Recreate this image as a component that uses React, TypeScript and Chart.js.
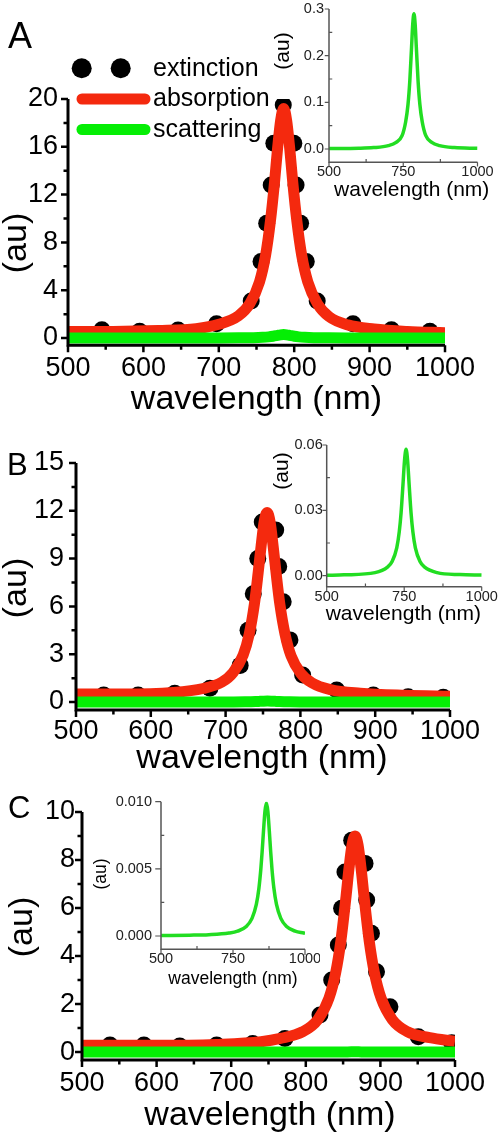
import React, { useEffect, useRef } from "react";
import { Chart, registerables } from "chart.js";

Chart.register(...registerables);

const FONT = "'Liberation Sans', Arial, Helvetica, sans-serif";
const RED = "#f4290e";
const GREEN_MAIN = "#05ee05";
const GREEN_INSET = "#22dd22";

// ---------- Panel A ----------
const absA_x = [500, 560, 620, 670, 700, 726, 741, 754, 762, 768.5, 774, 778, 782, 786, 790, 794, 798, 803.5, 810, 818, 831, 846, 871, 906, 950, 1000];
const absA_y = [0.55, 0.55, 0.62, 0.78, 1.15, 1.85, 2.85, 4.7, 6.9, 9.8, 13.1, 15.9, 18.2, 19.2, 18.2, 15.9, 13.1, 9.8, 6.9, 4.7, 2.85, 1.8, 1.1, 0.75, 0.55, 0.45];
const extA_x = [545, 595, 646, 697, 743, 756, 763.5, 769.5, 773, 785.5, 799.5, 802.5, 808.5, 816, 830.5, 878, 929, 980];
const extA_y = [0.7, 0.56, 0.68, 1.2, 3.1, 6.4, 9.6, 12.8, 16.3, 19.5, 16.3, 12.8, 9.6, 6.4, 3.1, 1.2, 0.7, 0.56];
const scaA_x = [500, 600, 650, 700, 726, 746, 758, 766, 772, 778, 782, 786, 790, 794, 800, 806, 814, 826, 846, 872, 922, 1000];
const scaA_y = [0.001, 0.0016, 0.003, 0.0073, 0.0142, 0.0285, 0.058, 0.0954, 0.145, 0.2186, 0.268, 0.29, 0.268, 0.2186, 0.145, 0.0954, 0.058, 0.0285, 0.0142, 0.0073, 0.003, 0.0015];

// ---------- Panel B ----------
const absB_x = [500, 560, 630, 670, 695, 710, 723.5, 731.5, 738.5, 743.5, 747.5, 751.5, 755.5, 759.5, 763.5, 767.5, 772.5, 779.5, 787.5, 800.5, 815.5, 840, 880, 940, 1000];
const absB_y = [0.5, 0.5, 0.6, 0.85, 1.25, 1.85, 2.95, 4.25, 6.15, 8.1, 9.8, 11.3, 11.9, 11.3, 9.8, 8.1, 6.15, 4.25, 2.9, 1.8, 1.2, 0.78, 0.55, 0.42, 0.36];
const extB_x = [537, 583, 632, 679, 719.5, 730, 737, 743, 749, 767, 771, 777, 786, 803, 848.5, 897.5, 944, 991];
const extB_y = [0.44, 0.44, 0.55, 0.86, 2.3, 4.5, 6.8, 9.0, 11.3, 10.8, 8.5, 6.3, 3.9, 1.7, 0.75, 0.44, 0.33, 0.3];
const scaB_x = [500, 556, 656, 696, 711, 726, 734, 740, 746, 751, 756, 761, 766, 772, 778, 786, 801, 816, 856, 930, 1000];
const scaB_y = [0.0002, 0.0004, 0.0014, 0.0039, 0.0065, 0.0128, 0.0201, 0.029, 0.0417, 0.0528, 0.058, 0.0528, 0.0417, 0.029, 0.0201, 0.0128, 0.0065, 0.0039, 0.0014, 0.0005, 0.0003];

// ---------- Panel C ----------
const absC_x = [500, 600, 680, 740, 766, 796, 816, 831, 840, 847, 854, 858, 862, 866, 870, 874, 878, 885, 892, 901, 916, 936, 966, 1000];
const absC_y = [0.28, 0.28, 0.32, 0.43, 0.57, 0.85, 1.35, 2.24, 3.3, 4.63, 6.5, 7.68, 8.63, 9.0, 8.63, 7.68, 6.5, 4.63, 3.3, 2.24, 1.35, 0.85, 0.6, 0.45];
const extC_x = [537.5, 583, 631, 680.5, 728.8, 772, 819, 834.7, 843.6, 848, 852.5, 861.5, 879.4, 881.6, 888, 894.8, 912.8, 950.8, 995.6];
const extC_y = [0.29, 0.29, 0.25, 0.29, 0.36, 0.57, 1.54, 3.0, 4.46, 5.99, 7.5, 8.82, 7.86, 6.33, 4.95, 3.35, 1.89, 0.64, 0.39];
const scaC_x = [500, 600, 666, 736, 766, 796, 816, 831, 840, 846.5, 851, 856, 861, 866, 871, 876, 881, 885.5, 892, 901, 916, 936, 966, 996, 1000];
const scaC_y = [0.00003, 0.00006, 0.0001, 0.00022, 0.00036, 0.00071, 0.00131, 0.00235, 0.00356, 0.00495, 0.00622, 0.00784, 0.00929, 0.0099, 0.00929, 0.00784, 0.00622, 0.00495, 0.00356, 0.00235, 0.00131, 0.00071, 0.00036, 0.00022, 0.0002];

// ---------- Ticks & labels ----------
const xTicksMain = [500, 600, 700, 800, 900, 1000];
const xMinorMain = [550, 650, 750, 850, 950];
const yTicksA = [0, 4, 8, 12, 16, 20];
const yMinorA = [2, 6, 10, 14, 18];
const yTicksB = [0, 3, 6, 9, 12, 15];
const yMinorB = [1.5, 4.5, 7.5, 10.5, 13.5];
const yTicksC = [0, 2, 4, 6, 8, 10];
const yMinorC = [1, 3, 5, 7, 9];
const xTicksInset = [500, 750, 1000];
const xMinorInset = [625, 875];
const yTicksInsetA = [0, 0.1, 0.2, 0.3];
const yMinorInsetA = [0.05, 0.15, 0.25];
const yTicksInsetB = [0, 0.03, 0.06];
const yMinorInsetB = [0.015, 0.045];
const yTicksInsetC = [0, 0.005, 0.01];
const yMinorInsetC = [0.0025, 0.0075];
const legendLabels = ["extinction", "absorption", "scattering"];
const xTitle = "wavelength (nm)";
const yTitle = "(au)";
const panelLetters = ["A", "B", "C"];

const pts = (xs: number[], ys: number[]) => xs.map((x, i) => ({ x, y: ys[i] }));

type Txt = { text: string; x: number; y: number; size: number; align?: CanvasTextAlign; baseline?: CanvasTextBaseline; rotate?: boolean; color?: string };
type Spec = {
  box: { left: number; top: number; width: number; height: number };
  area: { left: number; top: number; right: number; bottom: number };
  xMin: number; xMax: number; yMin: number; yMax: number;
  xTicks: number[]; xMinor: number[]; yTicks: number[]; yMinor: number[];
  yFmt: (v: number) => string;
  tickSize: number; tickColor: string; xPad: number; yPad: number;
  axisColor: string; axisWidth: number; majorLen: number; minorLen: number; tickWidth: number;
  minorInward: boolean;
  datasets: any[];
  texts: Txt[];
  legend?: boolean;
};

function lineDs(xs: number[], ys: number[], color: string, width: number, order: number) {
  return {
    data: pts(xs, ys),
    showLine: true,
    borderColor: color,
    backgroundColor: color,
    borderWidth: width,
    pointRadius: 0,
    cubicInterpolationMode: "monotone",
    fill: false,
    order,
  };
}
function dotDs(xs: number[], ys: number[], order: number) {
  return {
    data: pts(xs, ys),
    showLine: false,
    pointRadius: 8.5,
    pointBackgroundColor: "#000",
    pointBorderWidth: 0,
    backgroundColor: "#000",
    borderColor: "#000",
    order,
  };
}

function makePlugin(spec: Spec) {
  return {
    id: "deco",
    afterDatasetsDraw(chart: any) {
      const { ctx, chartArea: a } = chart;
      const xs = chart.scales.x;
      const ys = chart.scales.y;
      const half = spec.axisWidth / 2;
      ctx.save();
      ctx.strokeStyle = spec.axisColor;
      ctx.lineWidth = spec.axisWidth;
      ctx.lineCap = "butt";
      const yTop = ys.getPixelForValue(spec.yMax);
      ctx.beginPath();
      ctx.moveTo(a.left, yTop);
      ctx.lineTo(a.left, a.bottom + half);
      ctx.moveTo(a.left - half, a.bottom);
      ctx.lineTo(a.right, a.bottom);
      ctx.stroke();
      ctx.lineWidth = spec.tickWidth;
      ctx.beginPath();
      for (const v of spec.xTicks) {
        const p = xs.getPixelForValue(v);
        ctx.moveTo(p, a.bottom);
        ctx.lineTo(p, a.bottom + half + spec.majorLen);
      }
      for (const v of spec.xMinor) {
        const p = xs.getPixelForValue(v);
        ctx.moveTo(p, a.bottom);
        if (spec.minorInward) ctx.lineTo(p, a.bottom - half - spec.minorLen);
        else ctx.lineTo(p, a.bottom + half + spec.minorLen);
      }
      for (const v of spec.yTicks) {
        const p = ys.getPixelForValue(v);
        ctx.moveTo(a.left, p);
        ctx.lineTo(a.left - half - spec.majorLen, p);
      }
      for (const v of spec.yMinor) {
        const p = ys.getPixelForValue(v);
        ctx.moveTo(a.left, p);
        if (spec.minorInward) ctx.lineTo(a.left + half + spec.minorLen, p);
        else ctx.lineTo(a.left - half - spec.minorLen, p);
      }
      ctx.stroke();
      ctx.restore();
    },
    afterDraw(chart: any) {
      const { ctx } = chart;
      const ox = spec.box.left;
      const oy = spec.box.top;
      ctx.save();
      if (spec.legend) {
        ctx.fillStyle = "#000";
        for (const cx of [81.7, 120.7]) {
          ctx.beginPath();
          ctx.arc(cx - ox, 68.3 - oy, 10, 0, Math.PI * 2);
          ctx.fill();
        }
        ctx.lineCap = "round";
        ctx.lineWidth = 11;
        ctx.strokeStyle = RED;
        ctx.beginPath();
        ctx.moveTo(82 - ox, 99 - oy);
        ctx.lineTo(145 - ox, 99 - oy);
        ctx.stroke();
        ctx.strokeStyle = GREEN_MAIN;
        ctx.beginPath();
        ctx.moveTo(82 - ox, 129.5 - oy);
        ctx.lineTo(145 - ox, 129.5 - oy);
        ctx.stroke();
      }
      for (const t of spec.texts) {
        ctx.save();
        ctx.fillStyle = t.color || "#000";
        ctx.font = `${t.size}px ${FONT}`;
        ctx.textAlign = t.align || "center";
        ctx.textBaseline = t.baseline || "alphabetic";
        ctx.translate(t.x - ox, t.y - oy);
        if (t.rotate) ctx.rotate(-Math.PI / 2);
        ctx.fillText(t.text, 0, 0);
        ctx.restore();
      }
      ctx.restore();
    },
  };
}

function buildChart(canvas: HTMLCanvasElement, spec: Spec) {
  const { box, area } = spec;
  const yAxisWidth = area.left - box.left;
  const xAxisHeight = box.top + box.height - area.bottom;
  return new Chart(canvas, {
    type: "scatter",
    data: { datasets: spec.datasets },
    options: {
      animation: false,
      responsive: false,
      events: [],
      layout: {
        padding: {
          left: 0,
          top: area.top - box.top,
          right: box.left + box.width - area.right,
          bottom: 0,
        },
      },
      plugins: { legend: { display: false }, tooltip: { enabled: false }, title: { display: false } },
      scales: {
        x: {
          type: "linear",
          min: spec.xMin,
          max: spec.xMax,
          grid: { display: false, drawTicks: false, tickLength: 0 },
          border: { display: false },
          ticks: {
            font: { family: FONT, size: spec.tickSize },
            color: spec.tickColor,
            padding: spec.xPad,
            maxRotation: 0,
            autoSkip: false,
            callback: (v: any) => String(v),
          },
          afterBuildTicks: (s: any) => {
            s.ticks = spec.xTicks.map((v) => ({ value: v }));
          },
          afterFit: (s: any) => {
            s.height = xAxisHeight;
            s.paddingLeft = 0;
            s.paddingRight = 0;
            s.paddingTop = 0;
            s.paddingBottom = 0;
          },
        },
        y: {
          type: "linear",
          min: spec.yMin,
          max: spec.yMax,
          grid: { display: false, drawTicks: false, tickLength: 0 },
          border: { display: false },
          ticks: {
            font: { family: FONT, size: spec.tickSize },
            color: spec.tickColor,
            padding: spec.yPad,
            autoSkip: false,
            callback: (v: any) => spec.yFmt(Number(v)),
          },
          afterBuildTicks: (s: any) => {
            s.ticks = spec.yTicks.map((v) => ({ value: v }));
          },
          afterFit: (s: any) => {
            s.width = yAxisWidth;
            s.paddingLeft = 0;
            s.paddingRight = 0;
            s.paddingTop = 0;
            s.paddingBottom = 0;
          },
        },
      },
    } as any,
    plugins: [makePlugin(spec) as any],
  });
}

const mainStyle = {
  tickSize: 27,
  tickColor: "#000",
  axisColor: "#000",
  axisWidth: 3,
  majorLen: 5.5,
  minorLen: 3,
  tickWidth: 2.5,
  minorInward: false,
  xTicks: xTicksMain,
  xMinor: xMinorMain,
  xMin: 500,
  xMax: 1000,
  yFmt: (v: number) => String(v),
};
const insetStyle = {
  tickSize: 14.5,
  tickColor: "#222",
  axisColor: "#555",
  axisWidth: 1.5,
  majorLen: 3.5,
  minorLen: 2.5,
  tickWidth: 1.2,
  minorInward: true,
  xTicks: xTicksInset,
  xMinor: xMinorInset,
  xMin: 500,
  xMax: 1000,
};

const specs: Spec[] = [
  // Main A
  {
    ...mainStyle,
    box: { left: 0, top: 0, width: 500, height: 420 },
    area: { left: 68, top: 99, right: 445, bottom: 345.2 },
    yMin: -0.6, yMax: 20, yTicks: yTicksA, yMinor: yMinorA, xPad: 7.5, yPad: 10,
    datasets: [
      lineDs(scaA_x, scaA_y, GREEN_MAIN, 11, 0),
      lineDs(absA_x, absA_y, RED, 11, 1),
      dotDs(extA_x, extA_y, 2),
    ],
    legend: true,
    texts: [
      { text: panelLetters[0], x: 8, y: 48, size: 36, align: "left" },
      { text: xTitle, x: 256.5, y: 409, size: 34 },
      { text: yTitle, x: 17, y: 243, size: 34, rotate: true, baseline: "middle" },
      { text: legendLabels[0], x: 153, y: 76, size: 25, align: "left" },
      { text: legendLabels[1], x: 153, y: 106, size: 25, align: "left" },
      { text: legendLabels[2], x: 153, y: 137, size: 25, align: "left" },
    ],
  },
  // Inset A
  {
    ...insetStyle,
    box: { left: 270, top: 0, width: 230, height: 205 },
    area: { left: 329, top: 9, right: 477.5, bottom: 162.3 },
    yMin: -0.0285, yMax: 0.3, yTicks: yTicksInsetA, yMinor: yMinorInsetA, xPad: 1, yPad: 5,
    yFmt: (v: number) => v.toFixed(1),
    datasets: [lineDs(scaA_x, scaA_y, GREEN_INSET, 3.5, 0)],
    texts: [
      { text: xTitle, x: 411.7, y: 196, size: 21 },
      { text: yTitle, x: 283, y: 51, size: 21, rotate: true, baseline: "middle" },
    ],
  },
  // Main B
  {
    ...mainStyle,
    box: { left: 0, top: 420, width: 500, height: 362 },
    area: { left: 76, top: 463, right: 450, bottom: 710 },
    yMin: -0.5, yMax: 15, yTicks: yTicksB, yMinor: yMinorB, xPad: 5, yPad: 12,
    datasets: [
      lineDs(scaB_x, scaB_y, GREEN_MAIN, 11, 0),
      lineDs(absB_x, absB_y, RED, 11, 1),
      dotDs(extB_x, extB_y, 2),
    ],
    texts: [
      { text: panelLetters[1], x: 7, y: 475, size: 31, align: "left" },
      { text: xTitle, x: 262, y: 768, size: 34 },
      { text: yTitle, x: 17, y: 588, size: 34, rotate: true, baseline: "middle" },
    ],
  },
  // Inset B
  {
    ...insetStyle,
    box: { left: 270, top: 430, width: 230, height: 200 },
    area: { left: 326.7, top: 445, right: 481.7, bottom: 586.7 },
    yMin: -0.00505, yMax: 0.06, yTicks: yTicksInsetB, yMinor: yMinorInsetB, xPad: 1.3, yPad: 4,
    yFmt: (v: number) => v.toFixed(2),
    datasets: [lineDs(scaB_x, scaB_y, GREEN_INSET, 3.5, 0)],
    texts: [
      { text: xTitle, x: 403.3, y: 620, size: 21 },
      { text: yTitle, x: 282.5, y: 471, size: 21, rotate: true, baseline: "middle" },
    ],
  },
  // Main C
  {
    ...mainStyle,
    box: { left: 0, top: 782, width: 500, height: 354 },
    area: { left: 82, top: 812, right: 455, bottom: 1060 },
    yMin: -0.33, yMax: 10, yTicks: yTicksC, yMinor: yMinorC, xPad: 7, yPad: 7,
    datasets: [
      lineDs(scaC_x, scaC_y, GREEN_MAIN, 11, 0),
      lineDs(absC_x, absC_y, RED, 11, 1),
      dotDs(extC_x, extC_y, 2),
    ],
    texts: [
      { text: panelLetters[2], x: 8, y: 818, size: 31, align: "left" },
      { text: xTitle, x: 270, y: 1125, size: 34 },
      { text: yTitle, x: 22.5, y: 927, size: 34, rotate: true, baseline: "middle" },
    ],
  },
  // Inset C
  {
    ...insetStyle,
    majorLen: 5,
    box: { left: 80, top: 788, width: 240, height: 207 },
    area: { left: 161, top: 801.7, right: 305, bottom: 949.3 },
    yMin: -0.00099, yMax: 0.01, yTicks: yTicksInsetC, yMinor: yMinorInsetC, xPad: 1, yPad: 9,
    yFmt: (v: number) => v.toFixed(3),
    datasets: [lineDs(scaC_x, scaC_y, GREEN_INSET, 3.5, 0)],
    texts: [
      { text: xTitle, x: 233, y: 984, size: 17.5 },
      { text: yTitle, x: 101, y: 874, size: 17.5, rotate: true, baseline: "middle" },
    ],
  },
];

export default function App() {
  const refs = useRef<(HTMLCanvasElement | null)[]>([]);
  useEffect(() => {
    const charts = specs.map((s, i) => buildChart(refs.current[i] as HTMLCanvasElement, s));
    return () => charts.forEach((c) => c.destroy());
  }, []);
  return (
    <div style={{ position: "absolute", left: 0, top: 0, width: 500, height: 1136, background: "#fff", overflow: "hidden" }}>
      {specs.map((s, i) => (
        <canvas
          key={i}
          ref={(el) => {
            refs.current[i] = el;
          }}
          width={s.box.width}
          height={s.box.height}
          style={{ position: "absolute", left: s.box.left, top: s.box.top, width: s.box.width, height: s.box.height, display: "block" }}
        />
      ))}
    </div>
  );
}
